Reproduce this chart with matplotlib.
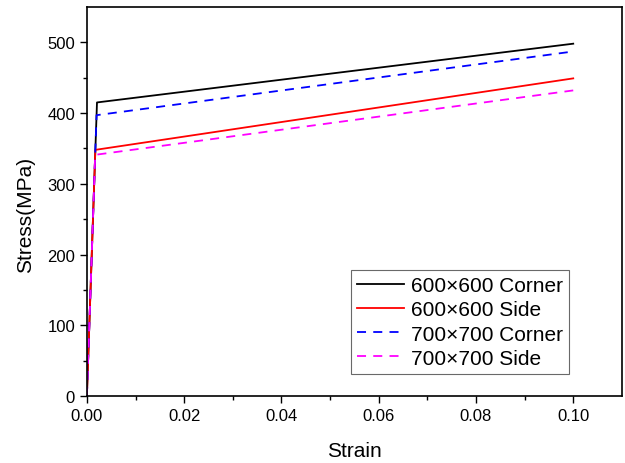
import numpy as np
import matplotlib.pyplot as plt

plt.rcParams['font.family'] = ['Liberation Sans', 'DejaVu Sans']

labels = ["600×600 Corner", "600×600 Side", "700×700 Corner", "700×700 Side"]
colors = ["black", "red", "blue", "magenta"]
styles = ["-", "-", "--", "--"]

# strain / stress points (elastic end, then linear hardening)
strain = [
    [0.0, 0.00208, 0.1],
    [0.0, 0.00174, 0.1],
    [0.0, 0.00199, 0.1],
    [0.0, 0.00171, 0.1],
]
stress = [
    [0, 415, 498],
    [0, 348, 449],
    [0, 397, 487],
    [0, 341, 432],
]

fig = plt.figure(figsize=(6.25, 4.64), dpi=100)
ax = fig.add_axes([0.139, 0.144, 0.856, 0.839])

for x, y, c, ls, lab in zip(strain, stress, colors, styles, labels):
    ax.plot(x, y, color=c, linestyle=ls, linewidth=1.3, label=lab,
            dashes=(5, 4) if ls == "--" else (None, None))

ax.set_xlim(0, 0.11)
ax.set_ylim(0, 550)
ax.set_xticks(np.arange(0, 0.101, 0.02))
ax.set_xticks(np.arange(0, 0.11, 0.01), minor=True)
ax.set_yticks(np.arange(0, 501, 100))
ax.set_yticks(np.arange(0, 550, 50), minor=True)
ax.xaxis.set_major_formatter(plt.FormatStrFormatter('%.2f'))
ax.tick_params(direction='out', labelsize=12, length=5, width=1)
ax.tick_params(which='minor', direction='out', length=3, width=1)
for s in ax.spines.values():
    s.set_linewidth(1.2)

ax.set_xlabel("Strain", fontsize=15)
ax.set_ylabel("Stress(MPa)", fontsize=15)
ax.xaxis.set_label_coords(0.5, -0.115)
ax.yaxis.set_label_coords(-0.097, 0.468)

leg = ax.legend(loc='lower right', bbox_to_anchor=(0.901, 0.057), fontsize=15,
                frameon=True, fancybox=False, edgecolor='#444444',
                handlelength=2.25, borderpad=0.3, labelspacing=0.25,
                handletextpad=0.33, borderaxespad=0)
leg.get_frame().set_linewidth(0.8)

fig.savefig("out.png", dpi=100)
